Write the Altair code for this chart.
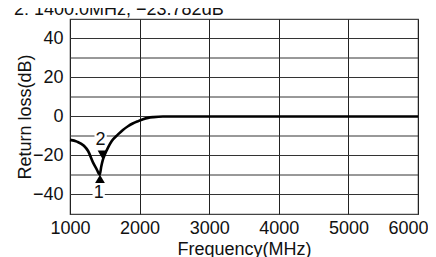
import altair as alt
import pandas as pd

# Return-loss curve
freq = [1000, 1100, 1200, 1260, 1330, 1380, 1427, 1450, 1474, 1500, 1546, 1600, 1690,
        1760, 1833, 1900, 1977, 2050, 2121, 2200, 2336, 3000, 4000, 5000, 6000]
db = [-12.0, -12.9, -15.0, -17.7, -23.5, -26.8, -29.8, -25.5, -22.0, -19.5, -16.0, -12.6, -9.2,
      -6.9, -5.0, -3.6, -2.4, -1.4, -0.7, -0.3, 0.0, 0.0, 0.0, 0.0, 0.0]

# Markers
marker_names = ["1", "2"]
marker_freq = [1431, 1467]
marker_db = [-32.0, -19.6]
marker_shape = ["triangle-up", "triangle-down"]
label_freq = [1412, 1440]
label_db = [-39.3, -12.3]

header_text = "2: 1400.0MHz, \u221223.782dB"

x_ticks = [1000, 2000, 3000, 4000, 5000, 6000]
y_ticks = [-40, -20, 0, 20, 40]
y_grid = [-40, -30, -20, -10, 0, 10, 20, 30, 40]

FONT = "Liberation Sans"

curve = pd.DataFrame({"f": freq, "db": db})
markers = pd.DataFrame({"name": marker_names, "f": marker_freq, "db": marker_db, "shape": marker_shape})
labels = pd.DataFrame({"name": marker_names, "f": label_freq, "db": label_db})
hgrid = pd.DataFrame({"g": y_grid})

xs = alt.Scale(domain=[1000, 6000], nice=False, zero=False)
ys = alt.Scale(domain=[-50, 50], nice=False)

xaxis = alt.Axis(values=x_ticks, format="d", title="Frequency(MHz)", grid=True,
                 gridColor="#222", gridOpacity=1, gridWidth=1, ticks=False, domain=False,
                 labelFontSize=18, titleFontSize=18, labelPadding=5, titlePadding=3,
                 labelOffset={"expr": "datum.value == 6000 ? -10 : 0"},
                 labelColor="#111", titleColor="#111", titleFontWeight="normal",
                 labelFont=FONT, titleFont=FONT, labelFlush=False)
yaxis = alt.Axis(values=y_ticks, title="Return loss(dB)", grid=False,
                 ticks=False, domain=False, labelOverlap=False,
                 labelFontSize=18, titleFontSize=18, labelPadding=7, titlePadding=-2,
                 labelColor="#111", titleColor="#111", titleFontWeight="normal",
                 labelFont=FONT, titleFont=FONT)

grid_rules = alt.Chart(hgrid).mark_rule(color="#333", strokeWidth=1).encode(
    y=alt.Y("g:Q", scale=ys, axis=yaxis),
)

base_line = alt.Chart(curve).mark_line(color="black", strokeWidth=2.6, interpolate="monotone").encode(
    x=alt.X("f:Q", scale=xs, axis=xaxis),
    y=alt.Y("db:Q", scale=ys),
)

tri = alt.Chart(markers).mark_point(filled=True, color="black", opacity=1, size=95).encode(
    x=alt.X("f:Q", scale=xs),
    y=alt.Y("db:Q", scale=ys),
    shape=alt.Shape("shape:N", scale=None),
)

bg = alt.Chart(labels).mark_point(shape="square", filled=True, color="white", opacity=1, size=150).encode(
    x=alt.X("f:Q", scale=xs),
    y=alt.Y("db:Q", scale=ys),
)

txt = alt.Chart(labels).mark_text(font=FONT, fontSize=18, color="#111", baseline="middle", align="center").encode(
    x=alt.X("f:Q", scale=xs),
    y=alt.Y("db:Q", scale=ys),
    text="name:N",
)

head = alt.Chart(pd.DataFrame({"t": [header_text]})).mark_text(
    font=FONT, fontSize=18, color="#111", align="left", baseline="alphabetic"
).encode(x=alt.value(-56), y=alt.value(-4), text="t:N")

chart = alt.layer(grid_rules, base_line, bg, txt, tri, head).properties(
    width=348, height=195,
    autosize=alt.AutoSizeParams(type="none"),
    padding={"left": 62, "top": 11, "right": 10, "bottom": 46},
).configure_view(stroke="#444", strokeWidth=1.2)

chart.save("out.html", embed_options={"renderer": "svg", "actions": False})
